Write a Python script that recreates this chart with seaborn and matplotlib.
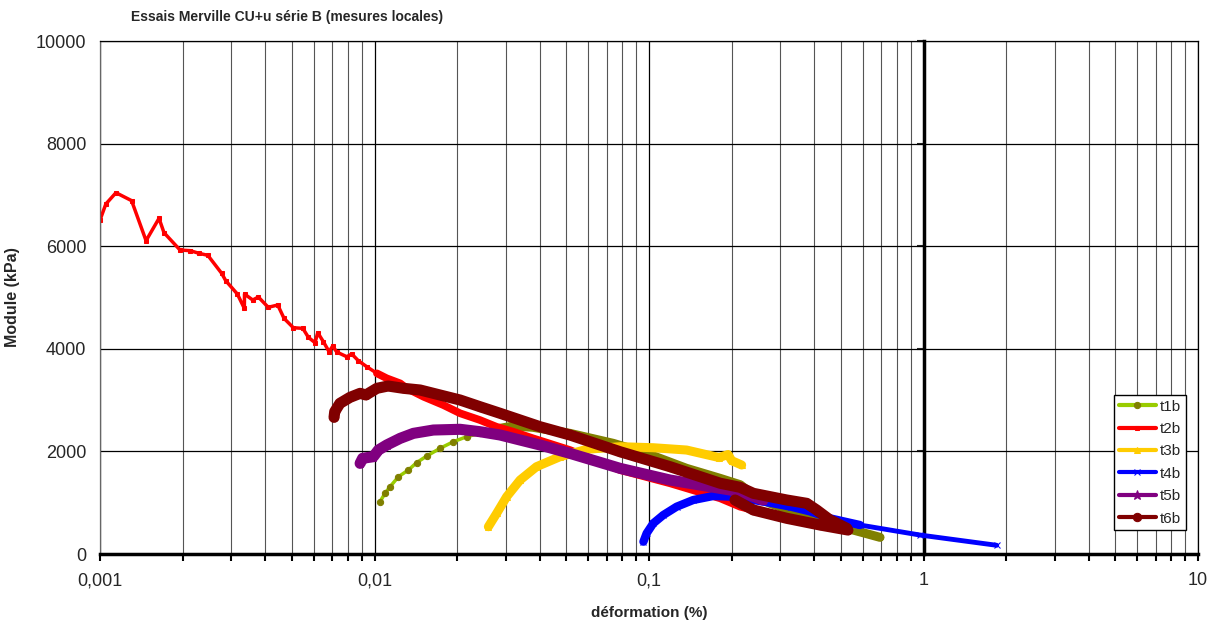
import numpy as np
import pandas as pd
import matplotlib
matplotlib.use("Agg")
import matplotlib.pyplot as plt
import matplotlib.ticker as mticker
import seaborn as sns

# values (deformation %, module kPa)
t1b_x = [0.01047, 0.01092, 0.01139, 0.01222, 0.01328, 0.01423, 0.01549, 0.01732, 0.01937, 0.02167,
         0.02423, 0.02866, 0.0320, 0.0378, 0.0515, 0.0741, 0.098, 0.137, 0.1815, 0.215, 0.24,
         0.276, 0.365, 0.444, 0.554, 0.694]
t1b_y = [1020, 1183, 1312, 1507, 1637, 1780, 1910, 2060, 2189, 2287,
         2352, 2450, 2495, 2470, 2352, 2157, 1962, 1670, 1475, 1350, 1150,
         988, 760, 630, 468, 325]

t2b_x = [0.001, 0.00105, 0.001143, 0.001303, 0.001471, 0.00164, 0.00171, 0.001956, 0.00213, 0.002296,
         0.00247, 0.002774, 0.00287, 0.003164, 0.003355, 0.00336, 0.0036, 0.003773, 0.0041, 0.00444,
         0.00468, 0.00506, 0.00548, 0.00574, 0.00607, 0.00621, 0.00651, 0.00683, 0.00704, 0.00728,
         0.00792, 0.00826, 0.00873, 0.00937, 0.0102, 0.01108, 0.0124, 0.0131, 0.01508, 0.0178,
         0.0205, 0.0242, 0.0278, 0.0320, 0.0378, 0.0515, 0.0784, 0.1193, 0.1815, 0.2147,
         0.24, 0.3, 0.4, 0.5]
t2b_y = [6511, 6823, 7043, 6888, 6108, 6543, 6264, 5926, 5913, 5861,
         5822, 5471, 5328, 5068, 4789, 5068, 4951, 5010, 4809, 4854,
         4594, 4411, 4399, 4224, 4119, 4314, 4139, 3944, 4055, 3938,
         3846, 3899, 3768, 3651, 3522, 3425, 3327, 3230, 3066, 2904,
         2743, 2612, 2481, 2384, 2255, 2027, 1637, 1378, 1086, 922,
         858, 740, 600, 480]

t3b_x = [0.02598, 0.02786, 0.03029, 0.0339, 0.0389, 0.0474, 0.0593, 0.0784, 0.1036, 0.137,
         0.18, 0.194, 0.2, 0.2175]
t3b_y = [532, 793, 1117, 1442, 1702, 1897, 2041, 2092, 2072, 2027,
         1880, 1940, 1820, 1735]

t4b_x = [0.0954, 0.098, 0.1036, 0.1127, 0.126, 0.1449, 0.1714, 0.2028, 0.2686, 0.33,
         0.386, 0.4564, 0.587, 0.971, 1.847]
t4b_y = [240, 403, 598, 760, 922, 1053, 1131, 1117, 1010, 920,
         830, 696, 565, 370, 170]

t5b_x = [0.00886, 0.00905, 0.0099, 0.01033, 0.01108, 0.0124, 0.01385, 0.01638, 0.02049, 0.02423,
         0.02866, 0.0339, 0.0401, 0.0515, 0.0784, 0.1193, 0.1815, 0.2147, 0.2603]
t5b_y = [1767, 1866, 1897, 2027, 2125, 2255, 2352, 2417, 2431, 2384,
         2320, 2222, 2125, 1962, 1670, 1442, 1280, 1215, 1053]

t6b_x = [0.00712, 0.00716, 0.00748, 0.00814, 0.00886, 0.0093, 0.0102, 0.0112, 0.01274, 0.01466,
         0.01734, 0.02049, 0.02423, 0.02866, 0.0339, 0.0401, 0.0515, 0.0784, 0.1193, 0.1815,
         0.2147, 0.2399, 0.3174, 0.3753, 0.408, 0.4564, 0.525, 0.53, 0.42, 0.3175,
         0.24, 0.2057]
t6b_y = [2664, 2774, 2937, 3054, 3132, 3100, 3230, 3275, 3230, 3197,
         3099, 3002, 2871, 2743, 2612, 2481, 2320, 1994, 1702, 1380,
         1300, 1183, 1053, 988, 858, 663, 501, 468, 565, 696,
         858, 1053]

series = ["t1b", "t2b", "t3b", "t4b", "t5b", "t6b"]
line_colors = ["#99CC00", "#FF0000", "#FFCC00", "#0000FF", "#800080", "#800000"]
marker_colors = ["#808000", "#FF0000", "#FFCC00", "#0000FF", "#800080", "#800000"]
markers = ["o", "s", "^", "x", "*", "o"]

x_ticks = [0.001, 0.01, 0.1, 1, 10]
x_tick_labels = ["0,001", "0,01", "0,1", "1", "10"]
y_ticks = [0, 2000, 4000, 6000, 8000, 10000]

title = "Essais Merville CU+u série B (mesures locales)"
x_label = "déformation (%)"
y_label = "Module (kPa)"

data = {
    "t1b": (t1b_x, t1b_y), "t2b": (t2b_x, t2b_y), "t3b": (t3b_x, t3b_y),
    "t4b": (t4b_x, t4b_y), "t5b": (t5b_x, t5b_y), "t6b": (t6b_x, t6b_y),
}

sns.set_style("white")
plt.rcParams["font.family"] = ["Liberation Sans", "DejaVu Sans"]

fig = plt.figure(figsize=(12.2, 6.27), dpi=100)
ax = fig.add_axes([0.082, 0.1164, 0.9, 0.8182])

# thin line + markers everywhere, then a wide band where the points are dense
styles = {
    "t1b": dict(lw=2.5, ms=4.5, band=slice(11, None), band_lw=6.5),
    "t2b": dict(lw=2.5, ms=3.5, band=slice(34, None), band_lw=5.5),
    "t3b": dict(lw=5, ms=5, band=slice(0, None), band_lw=6.5),
    "t4b": dict(lw=3.5, ms=5, band=slice(0, 13), band_lw=6),
    "t5b": dict(lw=5, ms=7, band=slice(0, None), band_lw=8),
    "t6b": dict(lw=5.5, ms=6, band=slice(0, None), band_lw=8),
}

for name, lc, mc, mk in zip(series, line_colors, marker_colors, markers):
    xs, ys = data[name]
    df = pd.DataFrame({"x": xs, "y": ys})
    st = styles[name]
    sns.lineplot(data=df, x="x", y="y", ax=ax, sort=False, estimator=None,
                 color=lc, linewidth=st["lw"], marker=mk, markersize=st["ms"],
                 markerfacecolor=mc, markeredgecolor=mc, label=name,
                 solid_capstyle="round")
    band = df.iloc[st["band"]]
    sns.lineplot(data=band, x="x", y="y", ax=ax, sort=False, estimator=None,
                 color=mc, linewidth=st["band_lw"], solid_capstyle="round",
                 solid_joinstyle="round", legend=False)

ax.set_xscale("log")
ax.set_xlim(0.001, 10)
ax.set_ylim(0, 10000)

ax.xaxis.set_major_locator(mticker.FixedLocator(x_ticks))
ax.xaxis.set_major_formatter(mticker.FixedFormatter(x_tick_labels))
ax.xaxis.set_minor_locator(mticker.LogLocator(base=10, subs=np.arange(2, 10)))
ax.xaxis.set_minor_formatter(mticker.NullFormatter())
ax.set_yticks(y_ticks)

ax.grid(which="major", axis="both", color="black", linewidth=0.9)
ax.grid(which="minor", axis="x", color="#555555", linewidth=0.8)
ax.set_axisbelow(True)

ax.tick_params(axis="x", which="both", direction="out", length=5, width=1.5,
               bottom=True, labelsize=13, pad=8, color="black")
ax.tick_params(axis="y", length=0, labelsize=13, pad=10)

for side in ["top", "right", "left"]:
    ax.spines[side].set_color("black")
    ax.spines[side].set_linewidth(0.9)
ax.spines["left"].set_color("#666666")
ax.spines["bottom"].set_color("black")
ax.spines["bottom"].set_linewidth(2.5)

# value axis crossing at deformation = 1 %
sec = ax.secondary_yaxis(0.75)
sec.set_yticks(y_ticks)
sec.tick_params(direction="in", length=5, width=1.5, labelright=False, labelleft=False)
for sp in sec.spines.values():
    sp.set_linewidth(2.5)
    sp.set_color("black")

ax.set_xlabel(x_label, fontsize=11, fontweight="bold", labelpad=12)
ax.set_ylabel(y_label, fontsize=11.5, fontweight="bold")
ax.yaxis.set_label_coords(-0.073, 0.5)
fig.text(131 / 1220, 1 - 17 / 627, title, fontsize=10, fontweight="bold",
         ha="left", va="center")

leg = ax.legend(loc="upper right", bbox_to_anchor=(0.989, 0.31), frameon=True,
                fancybox=False, edgecolor="black", framealpha=1, fontsize=11,
                handlelength=2.4, handletextpad=0.3, labelspacing=0.55,
                borderpad=0.3, borderaxespad=0, numpoints=1)
leg.get_frame().set_linewidth(1.0)
for h in leg.get_lines():
    h.set_linewidth(3)

fig.savefig("out.png", dpi=100)
